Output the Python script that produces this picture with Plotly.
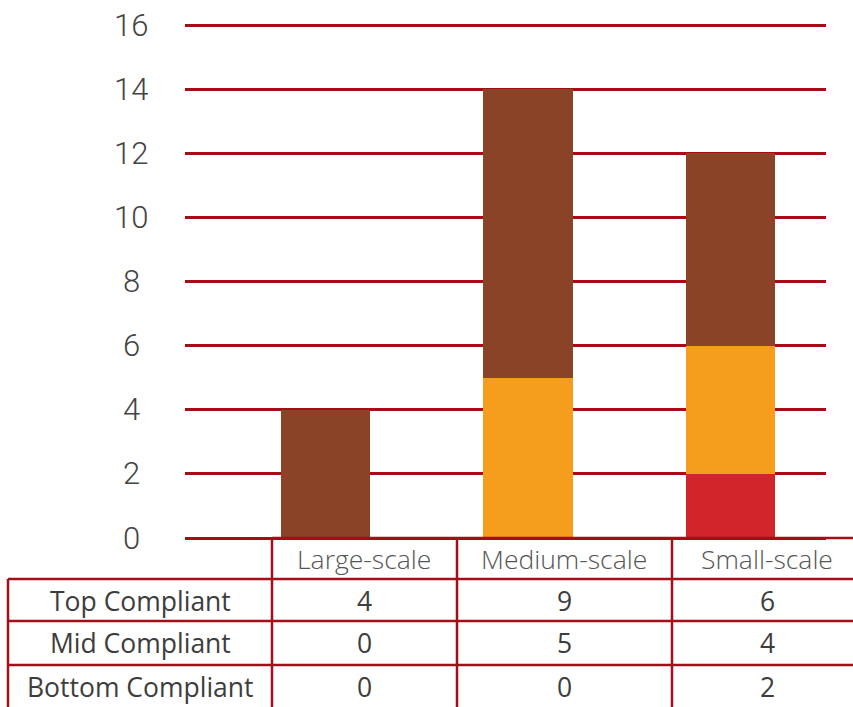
import plotly.graph_objects as go

categories = ["Large-scale", "Medium-scale", "Small-scale"]
row_labels = ["Top Compliant", "Mid Compliant", "Bottom Compliant"]
top_compliant = [4, 9, 6]
mid_compliant = [0, 5, 4]
bottom_compliant = [0, 0, 2]
y_ticks = [0, 2, 4, 6, 8, 10, 12, 14, 16]

series_values = [top_compliant, mid_compliant, bottom_compliant]
series_colors = {"Top Compliant": "#8B4328", "Mid Compliant": "#F59E1E", "Bottom Compliant": "#D2252B"}
line_red = "#A50E17"

W, H = 853, 707
Y_MAX = 16.1                      # a little headroom so the 16 gridline is drawn
L, R, B = 185, 826, 538           # plot area in pixels
T = round(B - (B - 25) * Y_MAX / 16)


def px(x):
    return (x - L) / (R - L)


def py(y):
    return (B - y) / (B - T)


fig = go.Figure()
# stacked from the bottom up
for name, vals in reversed(list(zip(row_labels, series_values))):
    fig.add_trace(go.Bar(
        x=list(range(len(categories))), y=vals, name=name,
        marker=dict(color=series_colors[name], line=dict(width=0)),
        width=0.44, showlegend=False,
    ))

# data table below the chart
shapes = []
def hline(x0, x1, y):
    shapes.append(dict(type="line", xref="paper", yref="paper",
                       x0=px(x0), x1=px(x1), y0=py(y), y1=py(y),
                       line=dict(color=line_red, width=2.5)))

def vline(x, y0, y1):
    shapes.append(dict(type="line", xref="paper", yref="paper",
                       x0=px(x), x1=px(x), y0=py(y0), y1=py(y1),
                       line=dict(color=line_red, width=2.5)))

hline(272, 860, 538)
for yy in [579, 621, 665]:
    hline(8, 860, yy)
for xx in [272, 457, 672]:
    vline(xx, 538, 712)
vline(8, 579, 712)

annotations = []
# centred y-axis labels, placed on the axis values
for v in y_ticks:
    annotations.append(dict(xref="paper", yref="y", x=px(131), y=v,
                            text=str(v), showarrow=False, xanchor="center", yanchor="middle",
                            font=dict(family="Roboto", size=31, color="#444444", weight=300)))

col_centers = [364, 564, 767]
row_centers = [601, 643, 687]
for cx, cat in zip(col_centers, categories):
    annotations.append(dict(xref="paper", yref="paper", x=px(cx), y=py(559),
                            text=cat, showarrow=False, xanchor="center", yanchor="middle",
                            font=dict(family="Open Sans", size=26.5, color="#555555", weight=300)))
for ry, label, vals in zip(row_centers, row_labels, series_values):
    annotations.append(dict(xref="paper", yref="paper", x=px(140), y=py(ry),
                            text=label, showarrow=False, xanchor="center", yanchor="middle",
                            font=dict(family="Open Sans", size=26.5, color="#3d3d3d")))
    for cx, v in zip(col_centers, vals):
        annotations.append(dict(xref="paper", yref="paper", x=px(cx), y=py(ry),
                                text=str(v), showarrow=False, xanchor="center", yanchor="middle",
                                font=dict(family="Open Sans", size=26.5, color="#3d3d3d")))

fig.update_layout(
    width=W, height=H, autosize=False,
    margin=dict(l=L, r=W - R, t=T, b=H - B, pad=0, autoexpand=False),
    paper_bgcolor="white", plot_bgcolor="white",
    barmode="stack",
    shapes=shapes, annotations=annotations,
    xaxis=dict(range=[-0.694, 2.472], showticklabels=False, showgrid=False,
               zeroline=False, showline=False, fixedrange=True, automargin=False),
    yaxis=dict(range=[0, Y_MAX], tickvals=y_ticks, showgrid=True, gridcolor=line_red,
               gridwidth=2.5, zeroline=True, zerolinecolor=line_red, zerolinewidth=2.5,
               showline=False, ticks="", showticklabels=False, automargin=False),
)

fig.write_html("out.html")
